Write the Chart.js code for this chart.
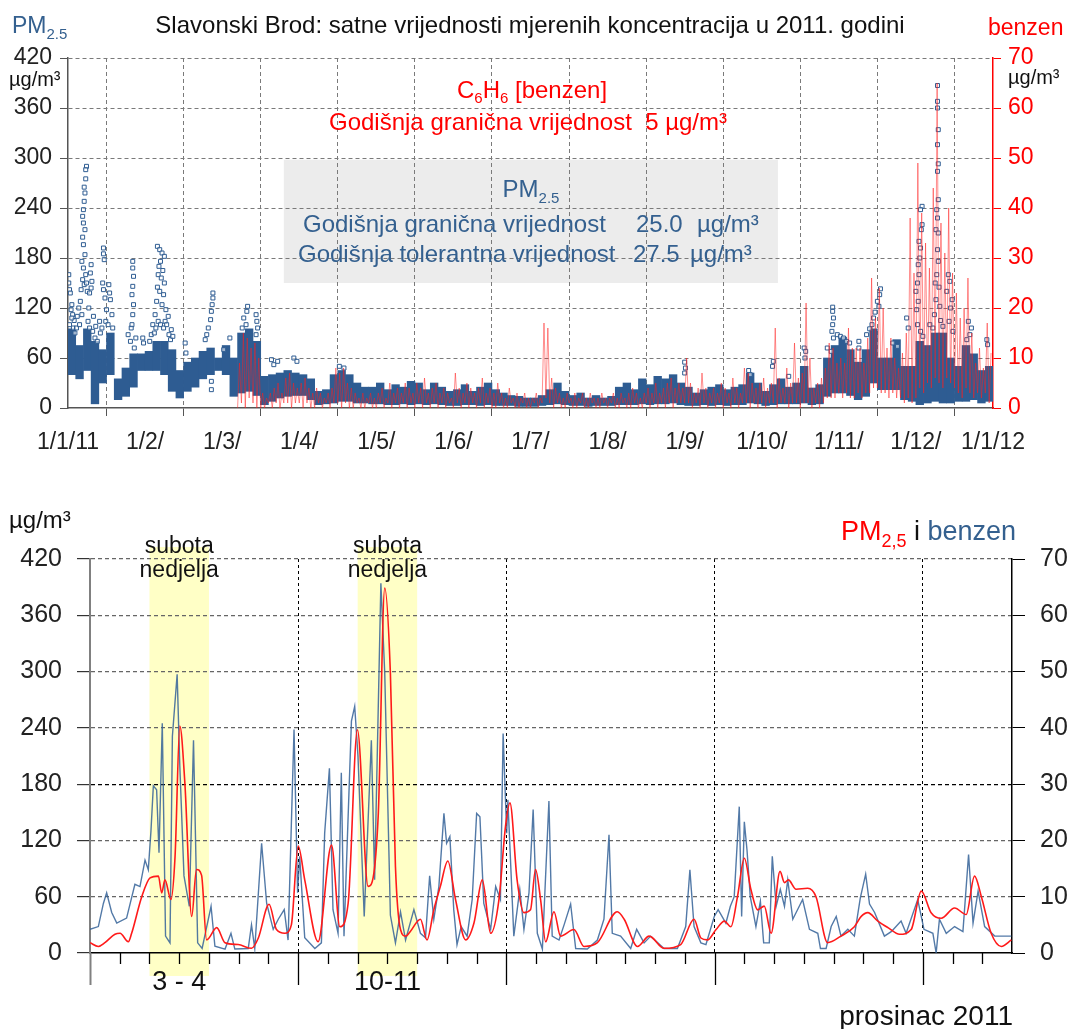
<!DOCTYPE html>
<html>
<head>
<meta charset="utf-8">
<script src="https://cdn.jsdelivr.net/npm/chart.js@4.4.1/dist/chart.umd.min.js"></script>
<style>
  body { margin: 0; background: #fff; }
  #wrap { position: relative; width: 1069px; height: 1029px; overflow: hidden; }
  #yearChart { position: absolute; left: 0; top: 0; }
  #decChart { position: absolute; left: 0; top: 470px; }
</style>
</head>
<body>
<div id="wrap">
  <canvas id="yearChart" width="1069" height="460"></canvas>
  <canvas id="decChart" width="1069" height="559"></canvas>
</div>
<script>
// Slavonski Brod 2011 – hourly PM2.5 and benzene, full year and December detail

const FONT = "'Liberation Sans', Arial, sans-serif";
const BLUE = '#2e5c92';
const TEXT_BLUE = '#34608f';
const RED = '#ff0000';

// ---- top panel: whole year, x in months from 1 Jan 2011 ----
const MONTH_LABELS = ['1/1/11','1/2/','1/3/','1/4/','1/5/','1/6/','1/7/','1/8/','1/9/','1/10/','1/11/','1/12/','1/1/12'];

// PM2.5 dense band, one [low, high] range per 0.1 month
const PM_STEP = 0.1;
const pmLow = [
  40,35,45,5,30,40,10,14,25,45,
  45,45,40,20,12,20,25,35,40,45,
  40,14,18,20,15,4,8,12,14,15,
  15,10,4,5,6,8,8,6,6,5,
  5,4,4,5,4,5,4,5,4,3,
  3,4,4,3,4,3,3,3,2,2,
  2,3,4,5,4,3,3,2,3,3,
  3,4,4,4,5,4,5,5,6,4,
  3,3,4,3,4,3,4,4,6,5,
  3,4,5,5,5,6,4,5,14,18,
  18,15,10,14,30,22,22,22,10,8,
  4,6,8,6,6,8,8,10,6,8
];
const pmHigh = [
  95,75,95,80,70,90,35,48,65,65,
  68,80,80,70,45,55,60,68,72,60,
  75,60,90,95,80,38,40,42,45,42,
  40,35,20,22,40,45,40,30,25,25,
  30,22,28,25,32,30,22,30,25,20,
  22,28,20,25,30,22,18,15,14,12,
  12,15,22,30,20,15,18,12,15,12,
  14,25,30,22,35,28,38,35,40,30,
  25,18,22,25,28,22,25,28,42,30,
  20,28,35,25,30,50,24,28,60,75,
  85,70,55,70,95,60,60,82,50,50,
  80,75,90,90,60,50,75,65,45,50
];

// isolated PM2.5 hourly values above the band [month, µg/m3]
const pmSpikes = [
  [0.01,160],[0.01,150],[0.02,142],[0.03,138],[0.05,124],[0.06,112],[0.08,105],[0.04,118],[0.07,96],
  [0.02,100],[0.05,108],[0.09,90],[0.11,96],[0.15,100],[0.18,112],
  [0.12,110],[0.14,120],[0.16,128],
  [0.24,290],[0.23,286],[0.23,275],[0.21,265],[0.22,258],[0.21,248],[0.20,238],[0.19,230],[0.20,222],
  [0.22,214],[0.19,205],[0.20,196],[0.22,184],[0.18,176],[0.20,168],[0.23,160],[0.19,154],[0.21,148],
  [0.17,142],[0.24,150],[0.25,140],[0.27,120],[0.26,104],[0.28,96],
  [0.30,172],[0.29,162],[0.31,152],[0.30,144],[0.28,138],[0.33,110],[0.36,98],[0.41,104],
  [0.32,92],[0.35,84],[0.38,80],[0.42,90],[0.44,96],[0.49,104],
  [0.46,192],[0.46,185],[0.47,178],[0.45,150],[0.46,142],[0.48,132],[0.50,118],
  [0.53,148],[0.54,138],[0.55,130],[0.57,112],[0.52,100],[0.58,96],
  [0.78,88],[0.82,96],[0.81,80],[0.86,72],
  [0.84,176],[0.84,168],[0.85,158],[0.84,146],[0.83,136],[0.85,124],[0.84,112],
  [0.83,100],[0.88,84],[0.97,84],[0.98,78],
  [1.06,80],[1.10,100],[1.13,112],[1.08,88],[1.12,90],[1.14,96],[1.17,104],[1.20,100],[1.24,96],[1.26,104],
  [1.16,194],[1.19,190],[1.22,186],[1.25,182],[1.20,176],[1.18,170],[1.23,165],[1.17,160],[1.21,156],
  [1.25,150],[1.16,145],[1.19,140],[1.24,136],[1.15,128],[1.22,124],[1.27,118],[1.30,110],[1.28,100],
  [1.31,88],[1.33,82],[1.34,94],[1.36,86],[1.52,78],[1.53,66],
  [1.78,82],[1.80,88],[1.82,96],[1.85,106],[1.86,116],[1.87,124],[1.88,132],[1.88,138],[1.86,32],[1.86,22],
  [2.02,70],[2.10,84],
  [2.26,96],[2.28,108],[2.31,100],[2.32,116],[2.33,122],[2.44,112],[2.45,104],[2.46,96],[2.44,88],
  [2.64,58],[2.67,52],[2.72,56],[2.93,60],[2.97,56],[3.52,50],[3.58,48],
  [8.00,55],[8.01,48],[8.00,42],[8.83,45],[8.85,40],
  [9.15,56],[9.14,50],[9.35,38],[9.55,72],[9.57,68],[9.56,60],
  [9.85,72],[9.90,68],[9.92,121],[9.92,116],[9.93,108],[9.92,100],[9.91,92],[9.93,84],
  [9.98,88],[10.02,86],[10.06,84],[10.10,80],[10.14,78],[10.26,80],[10.26,72],
  [10.54,143],[10.53,136],[10.50,128],[10.52,122],[10.47,115],[10.45,108],[10.43,100],[10.40,95],[10.36,88],
  [10.70,78],[10.76,74],[10.88,108],[10.90,96],
  [11.08,242],[11.06,238],[11.08,220],[11.07,214],[11.04,200],[11.06,192],[11.05,180],[11.03,172],
  [11.04,160],[11.02,150],[11.00,140],[11.03,128],[11.01,118],[11.02,100],[11.06,92],[11.09,86],
  [11.28,387],[11.28,368],[11.28,360],[11.29,334],[11.28,316],[11.29,293],[11.28,284],[11.29,250],
  [11.27,238],[11.28,228],[11.26,214],[11.29,210],[11.28,190],[11.29,176],[11.27,160],[11.25,150],
  [11.30,145],[11.26,130],[11.31,122],[11.24,112],[11.32,105],[11.22,96],[11.18,100],[11.35,98],
  [11.42,160],[11.44,152],[11.40,140],[11.47,130],[11.45,120],[11.43,104],[11.48,92],
  [11.68,104],[11.72,96],[11.70,88],[11.66,82],[11.92,82],[11.93,76]
];

// benzene trace from 7 March, one low/high pair per 0.05 month (right axis, µg/m3)
const BZ_START = 2.2;
const BZ_STEP = 0.05;
const bzLow = [
  0,1,0,2,1,0,
  0,0,1,0,1,0,1,1,0,1,
  1,0,1,0,0,1,0,1,0,1,
  1,0,1,0,0,1,0,0,1,0,
  0,1,0,1,0,1,0,1,0,1,0,1,0,1,0,1,0,1,0,1,
  0,1,0,1,0,1,0,1,0,1,0,0,1,0,0,1,0,0,1,0,
  0,1,0,1,2,1,0,1,0,0,1,0,0,1,0,0,1,0,0,1,
  0,1,0,0,1,0,0,1,0,0,1,0,1,0,1,0,1,0,1,1,
  1,1,0,1,0,1,0,1,0,1,0,1,0,1,0,1,1,0,1,0,
  1,0,1,1,0,1,1,0,1,1,0,1,1,0,1,0,1,2,2,2,
  3,2,3,2,2,3,2,3,3,4,4,3,3,2,3,2,2,1,2,1,
  2,4,3,5,4,6,5,4,6,5,4,3,2,4,3,2,3,2,3,1
];
const bzHigh = [
  9,15,14,12,13,10,
  3,2,3,4,5,3,6,7,5,4,
  5,6,4,3,4,3,2,3,4,8,
  7,8,5,4,3,2,3,2,3,2,
  3,4,2,5,3,4,3,5,4,3,5,4,6,3,4,5,3,4,3,2,
  7,4,3,5,4,3,4,6,3,4,3,5,3,2,4,2,3,2,3,2,
  2,3,2,17,16,6,4,3,2,3,2,3,2,3,2,3,2,2,3,2,
  2,3,2,3,2,3,4,3,2,3,4,3,5,3,4,5,6,4,5,4,
  10,5,3,4,7,4,3,4,3,5,4,3,6,4,3,8,7,5,4,5,
  6,4,5,16,6,4,8,5,13,6,7,21,10,4,5,6,8,13,12,9,
  10,9,16,12,12,12,9,14,26,18,24,20,12,14,10,8,11,15,38,27,
  49,39,33,28,44,65,37,31,40,27,23,18,20,26,15,9,12,8,17,11
];

// annual limit box, in axis units (months, µg/m3)
const PM_BOX = { x0: 2.8, x1: 9.21, y0: 150, y1: 298 };

// ---- bottom panel: December 2011, x in days from 1 Dec 00:00 ----
const pmDec = [
  [0.00,11],[0.28,7],[0.50,11],[0.84,20],[1.01,21],[1.29,12],[1.40,21],[1.74,60],[2.02,80],[2.30,82],
  [2.41,64],[2.52,78],[2.72,57],[2.86,103],[3.02,242],[3.19,181],[3.42,39],[3.58,89],[3.75,83],[3.92,14],
  [4.26,27],[4.54,11],[4.98,9],[5.43,5],[5.66,16],[6.02,52],[6.27,25],[6.55,21],[6.77,30],[7.00,114],
  [7.22,78],[7.67,12],[8.12,115],[8.40,28],[8.68,53],[8.99,238],[9.35,71],[9.69,146],[9.91,389],[10.10,298],
  [10.27,92],[10.44,25],[10.61,18],[10.77,23],[11.11,36],[11.33,14],[11.56,46],[11.78,71],[12.03,98],[12.29,57],
  [12.63,14],[12.91,32],[13.19,78],[13.47,21],[13.75,57],[13.97,135],[14.12,160],[14.36,78],[14.59,43],[14.81,46],
  [14.98,89],[15.15,57],[15.32,12],[15.60,44],[15.82,18],[16.27,25],[16.61,7],[17.06,11],[17.73,44],[17.96,36],
  [18.41,7],[18.80,18],[19.30,5],[19.86,9],[20.31,36],[20.54,16],[20.76,14],[21.05,25],[21.33,34],[21.55,28],
  [21.77,60],[22.00,101],[22.22,68],[22.45,46],[22.67,50],[22.90,21],[23.20,87],[23.35,75],[23.48,78],[23.74,68],
  [24.13,69],[24.41,60],[24.80,11],[25.25,18],[25.70,28],[25.93,39],[26.15,43],[26.49,34],[26.83,27],[27.22,20],
  [27.61,25],[27.95,66],[28.28,43],[28.62,37],[29.07,48],[29.46,41],[29.74,82],[29.97,60],[30.30,21],[30.64,7],
  [30.98,14]
];
const bzDec = [
  [0.00,4.2],[0.28,4.7],[0.45,8.8],[0.56,10.7],[0.73,7.2],[0.90,5.3],[1.23,6.2],[1.51,12.2],[1.68,11.8],[1.85,16.5],
  [1.96,14.8],[2.05,21.7],[2.13,29.7],[2.24,29.0],[2.32,17.8],[2.43,40.8],[2.54,3.0],[2.69,1.8],[2.77,38.5],[2.93,49.5],
  [3.02,33.2],[3.16,13.7],[3.34,8.3],[3.48,37.8],[3.62,1.8],[3.77,0.8],[4.07,8.3],[4.20,1.2],[4.54,0.7],[4.74,3.5],
  [4.87,0.7],[5.32,0.8],[5.43,5.0],[5.54,0.8],[5.77,19.5],[5.94,8.8],[6.16,4.2],[6.33,6.0],[6.53,7.7],[6.66,2.3],
  [6.86,39.7],[6.98,10.7],[7.05,17.2],[7.22,2.7],[7.56,0.8],[7.78,1.8],[7.89,21.3],[8.05,32.8],[8.17,7.7],[8.34,3.5],
  [8.45,32.0],[8.54,3.0],[8.79,41.2],[8.90,43.8],[9.01,35.0],[9.22,6.5],[9.46,37.8],[9.57,13.0],[9.78,65.7],[9.91,49.7],
  [10.10,6.7],[10.27,1.8],[10.44,7.3],[10.61,2.3],[10.89,7.7],[11.11,3.5],[11.28,2.7],[11.42,13.7],[11.56,6.0],[11.73,11.8],
  [11.90,24.8],[11.99,19.5],[12.10,20.7],[12.23,7.7],[12.34,1.5],[12.48,4.7],[12.68,3.0],[12.85,9.5],[13.00,24.8],[13.11,24.2],
  [13.24,8.8],[13.47,4.2],[13.64,11.8],[13.80,9.5],[13.89,39.0],[14.01,21.3],[14.05,27.2],[14.25,3.0],[14.45,11.3],[14.59,4.2],
  [14.76,10.7],[14.90,25.5],[15.04,3.5],[15.21,0.7],[15.43,27.0],[15.54,3.0],[15.77,2.3],[15.94,5.0],[16.16,8.7],[16.33,0.8],
  [16.72,0.7],[17.06,2.3],[17.28,6.0],[17.45,21.0],[17.56,3.5],[17.84,3.0],[18.18,0.8],[18.38,4.2],[18.63,1.8],[18.85,3.0],
  [19.30,0.8],[19.75,0.8],[20.03,4.7],[20.17,14.8],[20.31,4.7],[20.54,1.8],[20.71,1.5],[20.99,6.5],[21.12,7.7],[21.38,5.3],
  [21.53,8.3],[21.66,10.0],[21.83,26.0],[21.91,6.5],[22.00,23.3],[22.09,18.3],[22.20,10.0],[22.39,4.7],[22.54,9.2],[22.65,1.8],
  [22.84,1.8],[22.94,17.2],[23.07,8.3],[23.21,11.3],[23.35,8.3],[23.46,13.0],[23.63,6.0],[23.96,9.5],[24.19,4.2],[24.47,3.5],
  [24.56,0.8],[24.75,0.8],[24.92,4.7],[25.09,6.5],[25.25,3.0],[25.48,4.2],[25.70,3.0],[25.90,9.8],[26.08,14.0],[26.21,8.7],
  [26.38,7.2],[26.71,3.0],[26.94,3.8],[27.27,5.7],[27.44,3.5],[27.83,9.5],[28.04,4.2],[28.34,3.5],[28.45,0.0],[28.56,6.0],
  [28.79,3.5],[29.07,4.7],[29.35,3.8],[29.54,17.5],[29.69,5.3],[29.86,11.0],[30.08,4.7],[30.42,3.0],[30.64,3.0],[30.98,3.0]
];

// weekends highlighted: start day, end day, label
const weekendFrom = [2, 9];
const weekendTo = [4, 11];
const weekendLabels = ['3 - 4', '10-11'];
const MAJOR_DAYS = [0, 7, 14, 21, 28];

// draws a run of text pieces (for sub/superscripts)
function richText(ctx, x, y, parts, align) {
  let total = 0;
  parts.forEach(p => {
    ctx.font = p.size + 'px ' + FONT;
    p.w = ctx.measureText(p.t).width;
    total += p.w;
  });
  let cx = align === 'center' ? x - total / 2 : align === 'right' ? x - total : x;
  ctx.textAlign = 'left';
  ctx.textBaseline = 'alphabetic';
  parts.forEach(p => {
    ctx.font = p.size + 'px ' + FONT;
    ctx.fillStyle = p.color;
    ctx.fillText(p.t, cx, y + (p.dy || 0));
    cx += p.w;
  });
}

const yearDecor = {
  id: 'yearDecor',
  beforeDraw(chart) {
    const { ctx, scales: { x, y } } = chart;
    ctx.save();
    ctx.fillStyle = '#ececec';
    const l = x.getPixelForValue(PM_BOX.x0), r = x.getPixelForValue(PM_BOX.x1);
    const t = y.getPixelForValue(PM_BOX.y1), b = y.getPixelForValue(PM_BOX.y0);
    ctx.fillRect(l, t, r - l, b - t);
    ctx.restore();
  },
  afterDraw(chart) {
    const ctx = chart.ctx;
    ctx.save();
    richText(ctx, 12, 33, [{ t: 'PM', size: 23, color: TEXT_BLUE }, { t: '2.5', size: 15, color: TEXT_BLUE, dy: 6 }], 'left');
    richText(ctx, 530, 33, [{ t: 'Slavonski Brod: satne vrijednosti mjerenih koncentracija u 2011. godini', size: 24, color: '#111' }], 'center');
    richText(ctx, 988, 35, [{ t: 'benzen', size: 23, color: RED }], 'left');
    richText(ctx, 9, 86, [{ t: 'µg/m³', size: 20, color: '#111' }], 'left');
    richText(ctx, 1008, 84, [{ t: 'µg/m³', size: 20, color: '#111' }], 'left');

    richText(ctx, 532, 98, [
      { t: 'C', size: 24, color: RED }, { t: '6', size: 15, color: RED, dy: 5 },
      { t: 'H', size: 24, color: RED }, { t: '6', size: 15, color: RED, dy: 5 },
      { t: ' [benzen]', size: 24, color: RED }
    ], 'center');
    richText(ctx, 528, 130, [{ t: 'Godišnja granična vrijednost  5 µg/m³', size: 24, color: RED }], 'center');

    richText(ctx, 531, 197, [{ t: 'PM', size: 24, color: TEXT_BLUE }, { t: '2.5', size: 15, color: TEXT_BLUE, dy: 6 }], 'center');
    richText(ctx, 303, 232, [{ t: 'Godišnja granična vrijednost', size: 24, color: TEXT_BLUE }], 'left');
    richText(ctx, 636, 232, [{ t: '25.0', size: 24, color: TEXT_BLUE }], 'left');
    richText(ctx, 697, 232, [{ t: 'µg/m³', size: 24, color: TEXT_BLUE }], 'left');
    richText(ctx, 298, 262, [{ t: 'Godišnja tolerantna vrijednost', size: 24, color: TEXT_BLUE }], 'left');
    richText(ctx, 633, 262, [{ t: '27.5', size: 24, color: TEXT_BLUE }], 'left');
    richText(ctx, 690, 262, [{ t: 'µg/m³', size: 24, color: TEXT_BLUE }], 'left');
    ctx.restore();
  }
};

const bandData = pmLow.map((lo, i) => ({ x: (i + 0.5) * PM_STEP, y: [lo, pmHigh[i]] }));
const spikeData = pmSpikes.map(([m, v]) => ({ x: m, y: v }));
const bzData = [];
bzLow.forEach((lo, i) => {
  const m = BZ_START + i * BZ_STEP;
  bzData.push({ x: m, y: lo });
  bzData.push({ x: m + BZ_STEP / 2, y: bzHigh[i] });
});

new Chart(document.getElementById('yearChart'), {
  type: 'scatter',
  data: {
    datasets: [
      {
        type: 'line', label: 'benzen', data: bzData, yAxisID: 'y2',
        borderColor: 'rgba(255,30,30,0.5)', borderWidth: 1, pointRadius: 0, tension: 0, order: 0
      },
      {
        type: 'scatter', label: 'PM2.5', data: spikeData, yAxisID: 'y',
        pointStyle: 'rect', pointRadius: 2.8, borderWidth: 1,
        borderColor: BLUE, backgroundColor: 'rgba(255,255,255,0.55)', order: 1
      },
      {
        type: 'bar', label: 'PM2.5 ', data: bandData, yAxisID: 'y',
        backgroundColor: BLUE, borderWidth: 0, barPercentage: 1, categoryPercentage: 1, order: 2
      }
    ]
  },
  options: {
    responsive: false,
    animation: false,
    layout: { padding: { top: 58, left: 0, right: 0, bottom: 0 } },
    plugins: { legend: { display: false }, tooltip: { enabled: false } },
    scales: {
      x: {
        type: 'linear', min: 0, max: 12, offset: false,
        afterFit: s => { s.height = 52; },
        ticks: {
          stepSize: 1, padding: 13, color: '#222', font: { family: FONT, size: 23 },
          maxRotation: 0, autoSkip: false,
          callback: v => MONTH_LABELS[v]
        },
        grid: { color: '#7a7a7a', lineWidth: 1, tickLength: 8, tickColor: '#555' },
        border: { color: '#555', width: 1.5, dash: [4, 3] }
      },
      y: {
        position: 'left', min: 0, max: 420,
        afterFit: s => { s.width = 68; },
        ticks: { stepSize: 60, padding: 8, color: '#222', font: { family: FONT, size: 23 } },
        grid: {
          color: c => (c.tick && c.tick.value === 0) ? 'rgba(0,0,0,0)' : '#7a7a7a',
          lineWidth: 1, tickLength: 8, tickColor: '#555'
        },
        border: { color: '#555', width: 1.5, dash: [4, 3] }
      },
      y2: {
        position: 'right', min: 0, max: 70,
        afterFit: s => { s.width = 76; },
        ticks: { stepSize: 10, padding: 7, color: RED, font: { family: FONT, size: 23 } },
        grid: { drawOnChartArea: false, tickLength: 8, tickColor: RED },
        border: { color: RED, width: 1.5 }
      }
    }
  },
  plugins: [yearDecor]
});

const decDecor = {
  id: 'decDecor',
  beforeDraw(chart) {
    const { ctx, scales: { x } } = chart;
    ctx.save();
    ctx.fillStyle = '#ffffc6';
    weekendFrom.forEach((d0, i) => {
      const l = x.getPixelForValue(d0), r = x.getPixelForValue(weekendTo[i]);
      ctx.fillRect(l, 77, r - l, 429);
    });
    ctx.restore();
  },
  afterDraw(chart) {
    const { ctx, scales: { x }, chartArea } = chart;
    ctx.save();
    // day ticks, longer at week starts
    for (let d = 0; d < 31; d++) {
      const px = Math.round(x.getPixelForValue(d)) + 0.5;
      const major = MAJOR_DAYS.includes(d);
      ctx.strokeStyle = d === 0 ? '#808080' : '#000';
      ctx.lineWidth = d === 0 ? 2 : 1.3;
      ctx.beginPath();
      ctx.moveTo(px, chartArea.bottom);
      ctx.lineTo(px, chartArea.bottom + (major ? 32 : 11));
      ctx.stroke();
    }
    weekendFrom.forEach((d0, i) => {
      const cx = x.getPixelForValue((d0 + weekendTo[i]) / 2);
      richText(ctx, cx, 83, [{ t: 'subota', size: 23, color: '#111' }], 'center');
      richText(ctx, cx, 107, [{ t: 'nedjelja', size: 23, color: '#111' }], 'center');
      richText(ctx, cx, 520, [{ t: weekendLabels[i], size: 27, color: '#111' }], 'center');
    });
    richText(ctx, 9, 58, [{ t: 'µg/m³', size: 24, color: '#111' }], 'left');
    richText(ctx, 1016, 70, [
      { t: 'PM', size: 27, color: RED }, { t: '2,5', size: 18, color: RED, dy: 7 },
      { t: ' i ', size: 27, color: '#111' }, { t: 'benzen', size: 27, color: TEXT_BLUE }
    ], 'right');
    richText(ctx, 1013, 555, [{ t: 'prosinac 2011', size: 28, color: '#111' }], 'right');
    ctx.restore();
  }
};

new Chart(document.getElementById('decChart'), {
  type: 'line',
  data: {
    datasets: [
      {
        label: 'PM2,5', data: pmDec.map(([d, v]) => ({ x: d, y: v })), yAxisID: 'y',
        borderColor: '#ff1a1a', borderWidth: 1.6, pointRadius: 0,
        cubicInterpolationMode: 'monotone', order: 0
      },
      {
        label: 'benzen', data: bzDec.map(([d, v]) => ({ x: d, y: v })), yAxisID: 'y2',
        borderColor: 'rgba(52,98,152,0.85)', borderWidth: 1.4, pointRadius: 0, tension: 0, order: 1
      }
    ]
  },
  options: {
    responsive: false,
    animation: false,
    layout: { padding: { top: 89, left: 0, right: 0, bottom: 0 } },
    plugins: { legend: { display: false }, tooltip: { enabled: false } },
    scales: {
      x: {
        type: 'linear', min: 0, max: 31,
        afterFit: s => { s.height = 76; },
        ticks: { display: false, stepSize: 1 },
        grid: {
          drawTicks: false,
          color: c => (c.tick && c.tick.value > 0 && c.tick.value < 31 && c.tick.value % 7 === 0) ? '#000' : 'rgba(0,0,0,0)',
          lineWidth: 1
        },
        border: { color: '#000', width: 1.5, dash: [3, 3] }
      },
      y: {
        position: 'left', min: 0, max: 420,
        afterFit: s => { s.width = 90; },
        ticks: { stepSize: 60, padding: 15, color: '#222', font: { family: FONT, size: 25 } },
        grid: {
          color: c => {
            const v = c.tick ? c.tick.value : -1;
            if (v === 0) return 'rgba(0,0,0,0)';
            return v === 180 ? '#000' : '#666';
          },
          lineWidth: 1.2, tickLength: 13, tickColor: '#333'
        },
        border: { color: '#808080', width: 2, dash: [4, 3] }
      },
      y2: {
        position: 'right', min: 0, max: 70,
        afterFit: s => { s.width = 57; },
        ticks: { stepSize: 10, padding: 15, color: '#222', font: { family: FONT, size: 25 } },
        grid: { drawOnChartArea: false, tickLength: 13, tickColor: '#000' },
        border: { color: '#000', width: 1.5 }
      }
    }
  },
  plugins: [decDecor]
});
</script>
</body>
</html>
